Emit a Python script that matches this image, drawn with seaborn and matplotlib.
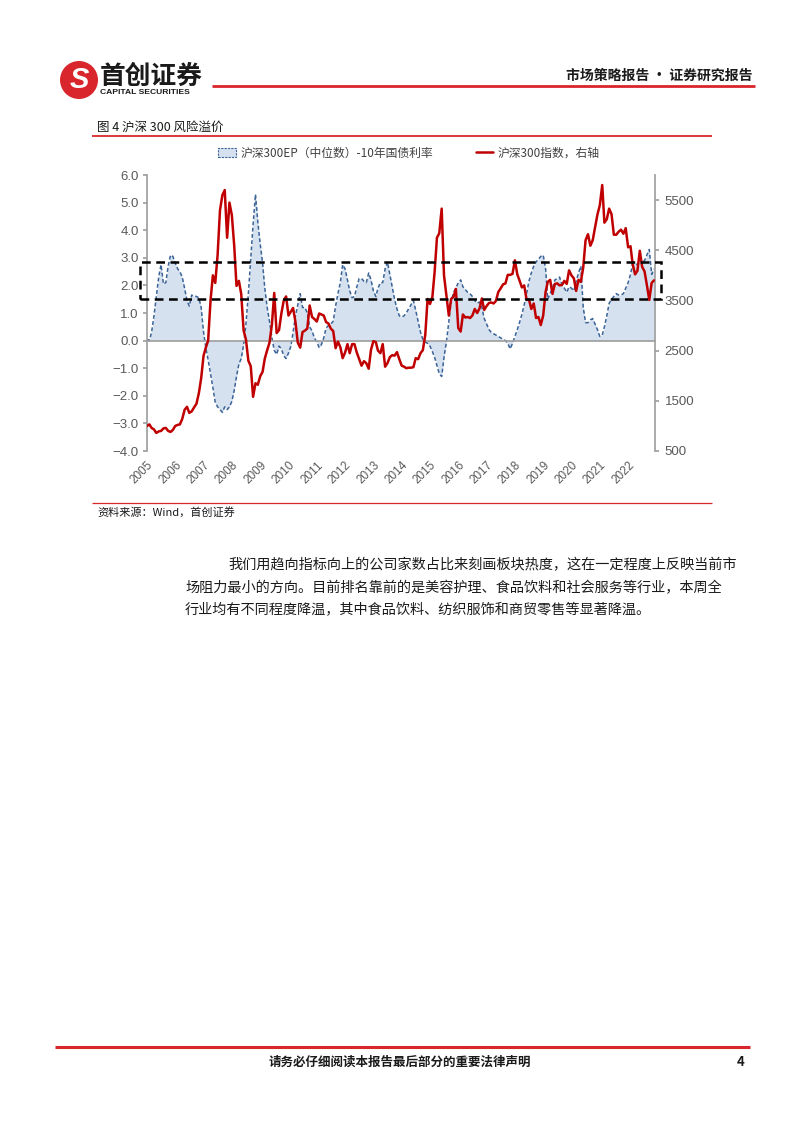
import numpy as np
import pandas as pd
import matplotlib
matplotlib.use('Agg')
import matplotlib.pyplot as plt
import matplotlib.dates as mdates
import matplotlib.transforms as mtransforms
from matplotlib.patches import Rectangle, Ellipse, Patch
from matplotlib.lines import Line2D
from matplotlib.ticker import FuncFormatter
import seaborn as sns

# ---------------- data (monthly) ----------------
months = pd.date_range('2005-01-01', '2022-12-01', freq='MS')

ep_2005 = [0.05, 0.0, 0.3, 0.9, 1.6, 2.3, 2.75, 2.05, 2.1, 2.7, 3.1, 3.05]
ep_2006 = [2.8, 2.6, 2.5, 2.3, 1.9, 1.45, 1.25, 1.65, 1.6, 1.6, 1.55, 1.2]
ep_2007 = [0.3, -0.3, -0.7, -1.2, -1.7, -2.25, -2.4, -2.5, -2.6, -2.4, -2.5, -2.4]
ep_2008 = [-2.2, -1.8, -1.3, -0.85, -0.65, -0.15, 0.6, 1.7, 3.0, 4.2, 5.3, 4.3]
ep_2009 = [3.5, 2.8, 1.9, 1.2, 0.7, 0.1, -0.35, -0.5, -0.2, -0.3, -0.55, -0.65]
ep_2010 = [-0.45, -0.2, 0.3, 0.9, 1.3, 1.7, 1.2, 1.2, 1.0, 0.5, 0.35, 0.1]
ep_2011 = [-0.05, -0.25, -0.15, 0.1, 0.45, 0.55, 0.6, 0.7, 1.25, 1.7, 2.1, 2.75]
ep_2012 = [2.6, 2.2, 1.8, 1.55, 1.6, 1.95, 2.25, 2.25, 2.15, 2.1, 2.45, 2.2]
ep_2013 = [1.8, 1.6, 1.9, 2.1, 2.1, 2.6, 2.85, 2.4, 1.95, 1.5, 1.15, 0.9]
ep_2014 = [0.85, 0.9, 1.0, 1.15, 1.3, 1.45, 1.1, 0.7, 0.3, 0.05, -0.05, -0.1]
ep_2015 = [-0.2, -0.4, -0.6, -0.9, -1.2, -1.3, -0.6, -0.05, 0.7, 1.4, 1.75, 1.9]
ep_2016 = [2.1, 2.2, 1.95, 1.85, 1.75, 1.7, 1.6, 1.45, 1.35, 1.4, 1.2, 0.8]
ep_2017 = [0.6, 0.4, 0.3, 0.25, 0.2, 0.15, 0.1, 0.05, 0.0, -0.1, -0.3, -0.1]
ep_2018 = [0.15, 0.4, 0.65, 0.95, 1.3, 1.7, 2.15, 2.45, 2.7, 2.85, 2.95, 3.05]
ep_2019 = [3.1, 2.6, 1.5, 1.7, 1.9, 2.2, 2.25, 2.3, 2.0, 1.9, 1.75, 1.95]
ep_2020 = [1.9, 1.8, 2.15, 2.45, 2.7, 1.2, 0.65, 0.65, 0.75, 0.8, 0.6, 0.4]
ep_2021 = [0.15, 0.2, 0.5, 0.9, 1.35, 1.5, 1.6, 1.7, 1.65, 1.65, 1.7, 1.9]
ep_2022 = [2.1, 2.4, 2.8, 2.8, 2.75, 2.95, 2.85, 2.9, 3.1, 3.3, 2.4, 2.6]

hs_2005 = [1000, 1030, 960, 930, 860, 890, 900, 950, 960, 900, 880, 920]
hs_2006 = [1000, 1020, 1030, 1140, 1320, 1380, 1260, 1290, 1370, 1440, 1650, 1950]
hs_2007 = [2400, 2570, 2700, 3500, 4000, 3850, 4400, 5300, 5600, 5700, 4750, 5450]
hs_2008 = [5200, 4580, 3790, 3890, 3630, 2900, 2720, 2300, 2190, 1580, 1850, 1820]
hs_2009 = [1990, 2080, 2340, 2510, 2660, 3020, 3650, 2850, 2910, 3240, 3500, 3580]
hs_2010 = [3200, 3280, 3350, 3070, 2660, 2560, 2870, 2900, 2940, 3400, 3170, 3130]
hs_2011 = [3080, 3240, 3220, 3200, 3070, 3040, 2940, 2890, 2550, 2680, 2570, 2350]
hs_2012 = [2460, 2630, 2450, 2630, 2630, 2460, 2330, 2200, 2290, 2250, 2140, 2520]
hs_2013 = [2690, 2670, 2500, 2450, 2630, 2180, 2250, 2370, 2410, 2400, 2470, 2330]
hs_2014 = [2200, 2180, 2150, 2160, 2160, 2170, 2350, 2330, 2450, 2510, 2810, 3530]
hs_2015 = [3430, 3570, 4050, 4750, 4840, 5330, 4000, 3600, 3200, 3530, 3570, 3730]
hs_2016 = [2950, 2880, 3220, 3160, 3170, 3150, 3200, 3330, 3250, 3340, 3540, 3310]
hs_2017 = [3390, 3450, 3460, 3440, 3490, 3670, 3740, 3820, 3840, 4010, 4010, 4030]
hs_2018 = [4300, 4020, 3900, 3760, 3800, 3510, 3520, 3330, 3440, 3150, 3170, 3010]
hs_2019 = [3200, 3670, 3870, 3910, 3630, 3830, 3840, 3800, 3810, 3890, 3830, 4100]
hs_2020 = [4000, 3940, 3690, 3910, 3870, 4160, 4700, 4820, 4590, 4700, 4960, 5210]
hs_2021 = [5400, 5800, 5050, 5120, 5330, 5220, 4810, 4810, 4870, 4910, 4830, 4940]
hs_2022 = [4560, 4580, 4220, 4020, 4090, 4490, 4170, 4080, 3800, 3510, 3850, 3900]

ep_spread = sum([ep_2005, ep_2006, ep_2007, ep_2008, ep_2009, ep_2010, ep_2011,
                 ep_2012, ep_2013, ep_2014, ep_2015, ep_2016, ep_2017, ep_2018,
                 ep_2019, ep_2020, ep_2021, ep_2022], [])
hs300 = sum([hs_2005, hs_2006, hs_2007, hs_2008, hs_2009, hs_2010, hs_2011,
             hs_2012, hs_2013, hs_2014, hs_2015, hs_2016, hs_2017, hs_2018,
             hs_2019, hs_2020, hs_2021, hs_2022], [])

year_labels = [str(y) for y in range(2005, 2023)]
left_ticks = [-4, -3, -2, -1, 0, 1, 2, 3, 4, 5, 6]
right_ticks = [500, 1500, 2500, 3500, 4500, 5500]
band_low, band_high = 1.5, 2.83

legend_ep = '沪深300EP（中位数）-10年国债利率'
legend_hs = '沪深300指数，右轴'

df = pd.DataFrame({'date': months, 'ep': ep_spread, 'hs300': hs300})

# ---------------- style ----------------
sns.set_theme(style='white')
plt.rcParams['font.family'] = ['Liberation Sans', 'Noto Sans CJK SC', 'DejaVu Sans']
CJK = ['Noto Sans CJK SC', 'DejaVu Sans']

W, H = 802, 1133
def fx(x): return x / W
def fy(y): return 1 - y / H

RED = '#C00000'
PAGE_RED = '#D9262C'
BLUE = '#3A6396'
FILL = '#D6E1F0'
GREY = '#A0A0A0'
TXT = '#595959'

fig = plt.figure(figsize=(W / 100, H / 100), dpi=100)
fig.patch.set_facecolor('white')

ax = fig.add_axes([fx(147), fy(451), 508 / W, 276 / H])
ax.fill_between(df['date'], df['ep'], 0, color=FILL, lw=0, zorder=1)
sns.lineplot(data=df, x='date', y='ep', ax=ax, color=BLUE, lw=1.1,
             linestyle=(0, (2.5, 1.6)), zorder=2)
ax.set_ylim(-4, 6)
ax.set_yticks(left_ticks)
ax.yaxis.set_major_formatter(FuncFormatter(lambda v, _: f'{v:.1f}'.replace('-', '−')))
ax.set_xlim(pd.Timestamp('2005-01-01'), pd.Timestamp('2022-12-14'))
year_pos = mdates.date2num(pd.to_datetime([f'{y}-01-01' for y in year_labels]))
ax.set_xticks(year_pos)
ax.set_xlabel('')
ax.set_ylabel('')
for s in ['top', 'right']:
    ax.spines[s].set_visible(False)
ax.spines['left'].set_color(GREY)
ax.spines['bottom'].set_color(GREY)
ax.spines['bottom'].set_position(('data', 0))
ax.tick_params(axis='x', direction='out', length=3, color=GREY, labelbottom=False)
ax.tick_params(axis='y', direction='out', length=3, color=GREY, labelsize=9.5,
               labelcolor=TXT, pad=3, left=True)

secax = ax.secondary_xaxis('bottom')
secax.spines['bottom'].set_visible(False)
secax.set_xticks(year_pos)
secax.set_xticklabels(year_labels, rotation=45, ha='right', rotation_mode='anchor')
secax.tick_params(length=0, pad=6, labelsize=8.5, labelcolor=TXT)

ax2 = ax.twinx()
sns.lineplot(data=df, x='date', y='hs300', ax=ax2, color=RED, lw=1.8, zorder=3)
ax2.set_ylim(500, 6000)
ax2.set_yticks(right_ticks)
ax2.set_xlabel('')
ax2.set_ylabel('')
for s in ['top', 'left', 'bottom']:
    ax2.spines[s].set_visible(False)
ax2.spines['right'].set_color(GREY)
ax2.tick_params(axis='y', direction='out', length=3, color=GREY, labelsize=9.5,
                labelcolor=TXT, pad=4, right=True)
ax2.set_xlim(ax.get_xlim())

rect_tr = mtransforms.blended_transform_factory(ax2.transAxes, ax.transData)
rect = Rectangle((-0.014, band_low), 1.026, band_high - band_low, transform=rect_tr,
                 fill=False, ec='black', lw=1.8, ls=(0, (3.5, 2.2)), clip_on=False, zorder=6)
ax2.add_patch(rect)
ax2.set_ylim(500, 6000)

handles = [Patch(facecolor=FILL, edgecolor=BLUE, linestyle=(0, (2, 1)), lw=0.8),
           Line2D([0], [0], color=RED, lw=1.8)]
fig.legend(handles, [legend_ep, legend_hs], loc='center', bbox_to_anchor=(fx(409), fy(153)),
           ncol=2, frameon=False, fontsize=8.5, columnspacing=3.6, handlelength=1.5,
           handletextpad=0.4, labelcolor='#404040', prop={'family': CJK, 'size': 8.5})

# ---------------- page decorations ----------------
def hline(x1, x2, y, lw, color=PAGE_RED):
    fig.add_artist(Line2D([fx(x1), fx(x2)], [fy(y), fy(y)], transform=fig.transFigure,
                          color=color, lw=lw, solid_capstyle='butt'))

# logo
fig.add_artist(Ellipse((fx(79), fy(80)), 38 / W, 38 / H, transform=fig.transFigure,
                       color=PAGE_RED, lw=0))
fig.text(fx(79), fy(80), 'S', color='white', fontsize=21, weight='bold', style='italic',
         ha='center', va='center', family=['Liberation Sans'])
fig.text(fx(100), fy(76), '首创证券', fontsize=18.5, weight='bold', family=CJK,
         ha='left', va='center', color='#1a1a1a')
fig.text(fx(100), fy(93), 'CAPITAL SECURITIES', fontsize=6.1, weight='bold',
         family=['Liberation Sans'], ha='left', va='center', color='#1a1a1a')
hline(212, 755, 86, 2.0)
fig.text(fx(752), fy(76), '市场策略报告 · 证券研究报告', fontsize=10, weight='bold',
         family=CJK, ha='right', va='center', color='#1a1a1a')

# figure title
fig.text(fx(97), fy(127), '图 4 沪深 300 风险溢价', fontsize=9, family=CJK,
         ha='left', va='center', color='#1a1a1a')
hline(92, 712, 136, 1.3)

# source
hline(92, 712, 503, 0.9)
fig.text(fx(97), fy(512), '资料来源：Wind，首创证券', fontsize=8, family=CJK, style='italic',
         ha='left', va='center', color='#1a1a1a')

# paragraph
para = ['我们用趋向指标向上的公司家数占比来刻画板块热度，这在一定程度上反映当前市',
        '场阻力最小的方向。目前排名靠前的是美容护理、食品饮料和社会服务等行业，本周全',
        '行业均有不同程度降温，其中食品饮料、纺织服饰和商贸零售等显著降温。']
para_x = [228, 185, 185]
para_y = [565, 588, 610]
for t, x, y in zip(para, para_x, para_y):
    fig.text(fx(x), fy(y), t, fontsize=10.2, family=CJK, ha='left', va='center',
             color='#1a1a1a')

# footer
hline(55, 750, 1047, 2.2)
fig.text(fx(400), fy(1062), '请务必仔细阅读本报告最后部分的重要法律声明', fontsize=9,
         weight='bold', family=CJK, ha='center', va='center', color='#1a1a1a')
fig.text(fx(741), fy(1062), '4', fontsize=9.5, weight='bold', family=CJK,
         ha='center', va='center', color='#1a1a1a')

fig.savefig('out.png', dpi=100, facecolor='white')
